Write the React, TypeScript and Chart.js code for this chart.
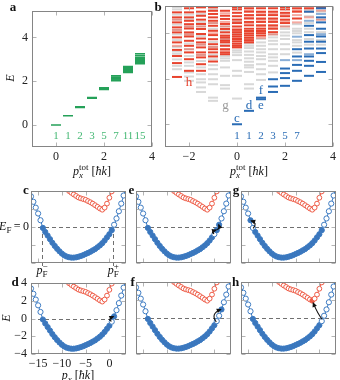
import { useEffect, useRef } from "react";
import { Chart, registerables } from "chart.js";

Chart.register(...registerables);

const SERIF = '"Liberation Serif", "DejaVu Serif", serif';
const GREEN = "#25a159";
const GREEN_TEXT = "#45b874";
const RED = "#e8432e";
const RED_LIGHT = "rgba(232, 67, 46, 0.45)";
const GRAY = "#d8d8d8";
const BLUE = "#2a6cb5";
const BLUE_LIGHT = "rgba(42, 108, 181, 0.55)";
const BAND_BLUE = "#3d7bc2";
const BAND_BLUE_FILL = "#3a76bc";
const BAND_RED = "#ee5b46";

// ---------- panel a : non-interacting spectrum ----------
const aMomenta = [0, 0.5, 1, 1.5, 2, 2.5, 3, 3.5];
const aLevels = [
  [0],
  [0.43],
  [0.8, 0.84],
  [1.22, 1.24, 1.26],
  [1.62, 1.64, 1.66, 1.68, 1.7],
  [2.02, 2.06, 2.1, 2.12, 2.16, 2.2, 2.25],
  [2.4, 2.43, 2.45, 2.48, 2.5, 2.53, 2.56, 2.58, 2.6, 2.64, 2.68],
  [2.8, 2.82, 2.84, 2.86, 2.88, 2.9, 2.92, 2.95, 3.0, 3.02, 3.05, 3.08, 3.1, 3.18, 3.26],
];
const aCounts = ["1", "1", "2", "3", "5", "7", "11", "15"];
const aXTicks = [0, 2, 4];
const aYTicks = [0, 2, 4];

// ---------- panel b : interacting spectrum ----------
const bMomenta = [-2.5, -2, -1.5, -1, -0.5, 0, 0.5, 1, 1.5, 2, 2.5, 3, 3.5];
const bRed = [
  [2.08, 2.69, 3.0, 3.27, 3.6, 3.82, 4.04, 4.26, 4.48, 4.7, 4.92],
  [2.35, 2.86, 3.16, 3.45, 3.67, 3.86, 4.04, 4.21, 4.4, 4.55, 4.7, 4.92, 5.1],
  [2.35, 2.64, 2.94, 3.16, 3.38, 3.6, 3.77, 3.97, 4.19, 4.41, 4.6, 4.77, 4.95, 5.14],
  [2.76, 2.98, 3.16, 3.3, 3.52, 3.74, 3.92, 4.11, 4.33, 4.55, 4.7, 4.85, 4.99, 5.14],
  [3.08, 3.16, 3.3, 3.45, 3.6, 3.67, 3.82, 3.9, 4.04, 4.19, 4.41, 4.63, 4.77, 4.99],
  [3.38, 3.45, 3.55, 3.65, 3.75, 3.85, 3.95, 4.05, 4.15, 4.3, 4.45, 4.6, 4.75, 4.9, 5.05, 5.14],
  [3.6, 3.7, 3.8, 3.9, 4.0, 4.1, 4.2, 4.35, 4.5, 4.65, 4.8, 4.95, 5.1],
  [3.9, 4.0, 4.1, 4.2, 4.35, 4.5, 4.65, 4.8, 4.95, 5.1],
  [4.05, 4.2, 4.35, 4.5, 4.65, 4.8, 4.95, 5.1],
  [4.45, 4.6, 4.75, 4.9, 5.05, 5.15],
  [4.65, 4.95, 5.1],
  [5.1],
  [5.15],
];
const bRedLight = [
  [3.45, 4.15, 4.6],
  [3.3, 3.95, 4.3],
  [3.05, 3.5, 4.3],
  [3.4, 4.0, 4.45],
  [3.25, 3.75, 4.3, 4.5, 4.88],
  [3.5, 3.9, 4.2, 4.5],
  [3.65, 3.95, 4.45, 4.7, 5.0],
  [3.8, 4.05, 4.3, 4.6, 4.9],
  [3.95, 4.28, 4.58, 4.88],
  [4.3, 4.52, 4.82],
  [4.48, 4.8, 5.0],
  [4.7, 4.95, 5.2],
  [4.6, 5.0],
];
const bGray = [
  [2.42, 2.57, 2.85, 3.1, 3.2, 3.4, 3.7, 3.95, 4.15, 4.38, 4.6, 4.82, 5.05, 5.15],
  [1.91, 2.1, 2.28, 2.57, 2.72, 3.0, 3.3, 3.55, 3.95, 4.3, 4.62, 4.82],
  [1.42, 1.62, 1.84, 1.98, 2.2, 2.5, 2.78, 3.05, 3.5, 3.88, 4.3, 4.5, 4.85],
  [1.03, 1.17, 1.76, 1.98, 2.2, 2.42, 2.6, 2.86, 3.05, 3.4, 3.62, 4.2, 4.45, 5.05],
  [1.57, 1.72, 2.13, 2.5, 2.79, 2.9, 3.0, 3.5, 3.75, 4.1, 4.3],
  [1.13, 2.13, 2.35, 2.82, 3.04, 3.16, 3.25, 4.0, 4.5, 5.2],
  [1.57, 1.76, 2.3, 2.5, 2.6, 2.75, 2.9, 3.05, 3.2, 3.35, 3.45, 3.55, 5.2],
  [1.95, 2.2, 2.42, 2.64, 2.86, 3.0, 3.16, 3.3, 3.45, 3.6, 3.75],
  [2.28, 2.57, 2.79, 2.94, 3.08, 3.3, 3.52, 3.67, 3.82, 3.95],
  [3.08, 3.3, 3.52, 3.75, 3.9, 4.04, 4.19, 4.3],
  [3.15, 3.45, 3.6, 3.7, 4.0, 4.1, 4.2, 4.4, 5.2],
  [3.5, 3.75, 4.05, 4.2, 4.45, 4.75, 5.05],
  [3.5, 3.7, 4.05, 4.6, 4.95],
];
const bBlue = [
  [], [], [], [], [],
  [0],
  [0.59],
  [1.1, 1.17],
  [1.42, 1.66, 1.98],
  [1.69, 2.03, 2.25, 2.45],
  [1.91, 2.35, 2.61, 2.98, 3.3],
  [2.13, 2.57, 2.79, 2.98, 3.33, 3.63, 3.92, 4.33, 4.95],
  [2.3, 2.74, 3.13, 3.33, 3.63, 3.86, 4.2, 4.48, 4.7, 5.1],
];
const bBlueLight = [
  [], [], [], [], [], [], [], [], [],
  [2.82],
  [2.82, 3.85],
  [3.08, 4.55],
  [3.96, 4.85],
];
const bCountMomenta = [0, 0.5, 1, 1.5, 2, 2.5];
const bCounts = ["1", "1", "2", "3", "5", "7"];
const bXTicks = [-2, 0, 2, 4];
const bYTicks = [0, 2, 4];
const bStateLabels = [
  { t: "c", x: 0, y: 0.24, color: BLUE },
  { t: "d", x: 0.5, y: 0.82, color: BLUE },
  { t: "f", x: 1, y: 1.47, color: BLUE },
  { t: "e", x: 1, y: 0.84, color: BLUE },
  { t: "g", x: -0.48, y: 0.8, color: "#9a9a9a" },
  { t: "h", x: -2, y: 1.84, color: RED },
];

// ---------- panels c-h : single-particle dispersion ----------
const bandMomenta = [
  -16.5, -16, -15.5, -15, -14.5, -14, -13.5, -13, -12.5, -12,
  -11.5, -11, -10.5, -10, -9.5, -9, -8.5, -8, -7.5, -7,
  -6.5, -6, -5.5, -5, -4.5, -4, -3.5, -3, -2.5, -2,
  -1.5, -1, -0.5, 0, 0.5, 1, 1.5, 2, 2.5, 3, 3.5,
];
const lowerBand = [
  3.4, 2.8, 2.15, 1.5, 0.75, -0.1, -0.55, -0.95, -1.35, -1.75,
  -2.1, -2.42, -2.7, -2.95, -3.15, -3.28, -3.36, -3.4, -3.4, -3.37,
  -3.3, -3.22, -3.12, -3.0, -2.88, -2.75, -2.6, -2.45, -2.25, -2.05,
  -1.8, -1.5, -1.15, -0.8, -0.35, 0.25, 0.95, 1.75, 2.6, 3.5, 4.4,
];
const upperMomenta = [
  -9, -8.5, -8, -7.5, -7, -6.5, -6, -5.5, -5, -4.5, -4,
  -3.5, -3, -2.5, -2, -1.5, -1, -0.5, 0, 0.5, 1,
];
const upperBand = [
  4.3, 4.0, 3.8, 3.62, 3.45, 3.28, 3.18, 3.1, 3.02, 2.88, 2.75,
  2.6, 2.42, 2.24, 2.06, 1.92, 2.15, 2.6, 3.25, 3.95, 4.6,
];
const fermiMomenta = [-14.2, 0.84];
const pXTicks = [-15, -10, -5, 0];
const pYTicks = [-4, -2, 0, 2, 4];

type Arrow = { from: number[]; via: number[]; to: number[] };
type Excitation = { holes: number[]; particles: number[]; redParticles: number[]; arrows: Arrow[] };

const excitations: Record<string, Excitation> = {
  c: { holes: [], particles: [], redParticles: [], arrows: [] },
  d: {
    holes: [0.5], particles: [1], redParticles: [],
    arrows: [{ from: [0.45, -0.3], via: [-0.5, -0.1], to: [0.85, 0.25] }],
  },
  e: {
    holes: [0], particles: [1], redParticles: [],
    arrows: [
      { from: [-0.05, -0.75], via: [-0.9, -0.55], to: [0.35, -0.35] },
      { from: [0.45, -0.3], via: [1.3, -0.2], to: [0.9, 0.25] },
    ],
  },
  f: {
    holes: [0.5], particles: [1.5], redParticles: [],
    arrows: [{ from: [0.4, -0.45], via: [-0.9, 0.5], to: [1.35, 0.95] }],
  },
  g: {
    holes: [-14], particles: [-14.5], redParticles: [],
    arrows: [{ from: [-13.95, -0.15], via: [-12.9, 0.45], to: [-14.35, 0.7] }],
  },
  h: {
    holes: [0.5], particles: [], redParticles: [-1.5],
    arrows: [{ from: [0.6, -0.15], via: [-0.35, 0.45], to: [-1.3, 1.68] }],
  },
};

// ---------- drawing helpers ----------
type Part = { t: string; it?: boolean; sub?: boolean; sup?: boolean; over?: boolean };
type Label = {
  parts: Part[]; x: number; y: number; xData?: boolean; yData?: boolean;
  align?: string; color?: string; size?: number; bold?: boolean; rotate?: boolean;
};

function drawRich(ctx: any, parts: Part[], x: number, y: number, size: number, color: string, align: string, bold: boolean) {
  const font = (p: Part) =>
    `${p.it ? "italic " : ""}${bold ? "bold " : ""}${p.sub || p.sup ? Math.round(size * 0.72) : size}px ${SERIF}`;
  const items: any[] = [];
  let cursor = 0;
  let prevStart = 0;
  for (const p of parts) {
    ctx.font = font(p);
    const w = ctx.measureText(p.t).width;
    let start;
    if (p.over) {
      start = prevStart;
      cursor = Math.max(cursor, start + w);
    } else {
      start = cursor;
      cursor += w;
      prevStart = start;
    }
    items.push({ p, start });
  }
  const x0 = align === "center" ? x - cursor / 2 : align === "right" ? x - cursor : x;
  ctx.fillStyle = color;
  ctx.textBaseline = "middle";
  ctx.textAlign = "left";
  for (const it of items) {
    ctx.font = font(it.p);
    const dy = it.p.sub ? size * 0.3 : it.p.sup ? -size * 0.38 : 0;
    ctx.fillText(it.p.t, x0 + it.start, y + dy);
  }
}

const decorPlugin = {
  id: "decor",
  beforeDatasetsDraw(chart: any, _a: any, o: any) {
    const { ctx, chartArea: ca, scales } = chart;
    const xs = scales.x;
    const ys = scales.y;
    ctx.save();
    ctx.strokeStyle = "#707070";
    ctx.lineWidth = 1;
    ctx.setLineDash([4, 3]);
    if (o.zeroLine) {
      const py = Math.round(ys.getPixelForValue(0)) + 0.5;
      ctx.beginPath();
      ctx.moveTo(ca.left, py);
      ctx.lineTo(ca.right, py);
      ctx.stroke();
    }
    for (const f of o.fermi || []) {
      const px = Math.round(xs.getPixelForValue(f)) + 0.5;
      ctx.beginPath();
      ctx.moveTo(px, ys.getPixelForValue(0));
      ctx.lineTo(px, ca.bottom + 4);
      ctx.stroke();
    }
    ctx.restore();
  },
  afterDraw(chart: any, _a: any, o: any) {
    const { ctx, chartArea: ca, scales } = chart;
    const xs = scales.x;
    const ys = scales.y;
    ctx.save();
    const L = Math.round(ca.left) + 0.5;
    const R = Math.round(ca.right) - 0.5;
    const T = Math.round(ca.top) + 0.5;
    const B = Math.round(ca.bottom) - 0.5;
    // inner tick marks
    ctx.strokeStyle = "#b4b4b4";
    ctx.lineWidth = 1;
    for (const v of o.xTicks || []) {
      const px = Math.round(xs.getPixelForValue(v)) + 0.5;
      ctx.beginPath();
      ctx.moveTo(px, B);
      ctx.lineTo(px, B - 4);
      ctx.moveTo(px, T);
      ctx.lineTo(px, T + 4);
      ctx.stroke();
    }
    for (const v of o.yTicks || []) {
      const py = Math.round(ys.getPixelForValue(v)) + 0.5;
      ctx.beginPath();
      ctx.moveTo(L, py);
      ctx.lineTo(L + 4, py);
      ctx.moveTo(R, py);
      ctx.lineTo(R - 4, py);
      ctx.stroke();
    }
    // frame
    ctx.strokeStyle = "#858585";
    ctx.strokeRect(L, T, R - L, B - T);
    // arrows
    for (const a of o.arrows || []) {
      const P = (q: number[]) => [xs.getPixelForValue(q[0]), ys.getPixelForValue(q[1])];
      const [x1, y1] = P(a.from);
      const [cx, cy] = P(a.via);
      const [x2, y2] = P(a.to);
      ctx.strokeStyle = "#111";
      ctx.fillStyle = "#111";
      ctx.lineWidth = 1.1;
      ctx.beginPath();
      ctx.moveTo(x1, y1);
      ctx.quadraticCurveTo(cx, cy, x2, y2);
      ctx.stroke();
      const ang = Math.atan2(y2 - cy, x2 - cx);
      const hl = 4;
      const hw = 2.3;
      ctx.beginPath();
      ctx.moveTo(x2 + Math.cos(ang) * 1, y2 + Math.sin(ang) * 1);
      ctx.lineTo(x2 - Math.cos(ang) * hl - Math.sin(ang) * hw, y2 - Math.sin(ang) * hl + Math.cos(ang) * hw);
      ctx.lineTo(x2 - Math.cos(ang) * hl + Math.sin(ang) * hw, y2 - Math.sin(ang) * hl - Math.cos(ang) * hw);
      ctx.closePath();
      ctx.fill();
    }
    // text labels
    for (const l of (o.labels || []) as Label[]) {
      const px = l.xData ? xs.getPixelForValue(l.x) : l.x;
      const py = l.yData ? ys.getPixelForValue(l.y) : l.y;
      const size = l.size || 12;
      const color = l.color || "#111";
      if (l.rotate) {
        ctx.save();
        ctx.translate(px, py);
        ctx.rotate(-Math.PI / 2);
        drawRich(ctx, l.parts, 0, 0, size, color, "center", !!l.bold);
        ctx.restore();
      } else {
        drawRich(ctx, l.parts, px, py, size, color, l.align || "center", !!l.bold);
      }
    }
    ctx.restore();
  },
};

const fmt = (v: number) => (v < 0 ? "\u2212" + Math.abs(v) : String(v));

type Geom = {
  yW: number; xH: number; padTop: number; padRight: number;
  xMin: number; xMax: number; yMin: number; yMax: number;
  xTicks: number[]; yTicks: number[]; showX: boolean; showY: boolean;
};

function makeConfig(g: Geom, datasets: any[], decor: any) {
  const tickFont = { family: SERIF, size: 12 };
  return {
    type: "scatter",
    data: { datasets },
    options: {
      responsive: false,
      animation: false,
      devicePixelRatio: 1,
      events: [],
      layout: { autoPadding: false, padding: { top: g.padTop, right: g.padRight, left: 0, bottom: 0 } },
      plugins: { legend: { display: false }, tooltip: { enabled: false }, decor: { ...decor, xTicks: g.xTicks, yTicks: g.yTicks } },
      scales: {
        x: {
          type: "linear", position: "bottom", min: g.xMin, max: g.xMax,
          grid: { display: false, drawTicks: false }, border: { display: false },
          ticks: { display: g.showX, padding: 3, color: "#222", font: tickFont, callback: fmt, maxRotation: 0 },
          afterBuildTicks: (s: any) => { s.ticks = g.xTicks.map((v) => ({ value: v })); },
          afterFit: (s: any) => { s.height = g.xH; },
        },
        y: {
          type: "linear", position: "left", min: g.yMin, max: g.yMax,
          grid: { display: false, drawTicks: false }, border: { display: false },
          ticks: { display: g.showY, padding: 4, color: "#222", font: tickFont, callback: fmt },
          afterBuildTicks: (s: any) => { s.ticks = g.yTicks.map((v) => ({ value: v })); },
          afterFit: (s: any) => { s.width = g.yW; },
        },
      },
    },
    plugins: [decorPlugin],
  };
}

const levelPoints = (cols: number[], levels: number[][]) =>
  cols.flatMap((x, i) => levels[i].map((y) => ({ x, y })));

const levelSet = (data: any[], color: string, width: number) => ({
  data, pointStyle: "line", pointRadius: 5, pointBorderWidth: width,
  pointBorderColor: color, pointBackgroundColor: color, showLine: false,
});

const momentumTitle: Part[] = [
  { t: "p", it: true }, { t: "x", it: true, sub: true }, { t: "tot", sup: true, over: true },
  { t: " [" }, { t: "\u0127k", it: true }, { t: "]" },
];

function makeA() {
  const g: Geom = {
    yW: 32, xH: 38, padTop: 7, padRight: 8, xMin: -1, xMax: 4, yMin: -1, yMax: 5.2,
    xTicks: aXTicks, yTicks: aYTicks, showX: true, showY: true,
  };
  const labels: Label[] = [
    { parts: [{ t: "a" }], x: 13, y: 8, bold: true, size: 13 },
    { parts: [{ t: "E", it: true }], x: 11, y: 78, rotate: true, size: 12 },
    { parts: momentumTitle, x: 92, y: 172, size: 12 },
    ...aMomenta.map((x, i) => ({
      parts: [{ t: aCounts[i] }], x, y: -0.52, xData: true, yData: true, color: GREEN_TEXT, size: 11,
    })),
  ];
  return makeConfig(g, [levelSet(levelPoints(aMomenta, aLevels), GREEN, 1.5)], { labels });
}

function makeB() {
  const g: Geom = {
    yW: 15, xH: 38, padTop: 6, padRight: 7, xMin: -3, xMax: 4, yMin: -1, yMax: 5.2,
    xTicks: bXTicks, yTicks: bYTicks, showX: true, showY: false,
  };
  const labels: Label[] = [
    { parts: [{ t: "b" }], x: 8, y: 8, bold: true, size: 13 },
    { parts: momentumTitle, x: 99, y: 172, size: 12 },
    ...bCountMomenta.map((x, i) => ({
      parts: [{ t: bCounts[i] }], x, y: -0.52, xData: true, yData: true, color: BLUE, size: 11,
    })),
    ...bStateLabels.map((s) => ({
      parts: [{ t: s.t }], x: s.x, y: s.y, xData: true, yData: true, color: s.color, size: 13,
    })),
  ];
  const datasets = [
    levelSet(levelPoints(bMomenta, bBlue), BLUE, 2),
    levelSet(levelPoints(bMomenta, bBlueLight), BLUE_LIGHT, 2),
    levelSet(levelPoints(bMomenta, bRed), RED, 2),
    levelSet(levelPoints(bMomenta, bRedLight), RED_LIGHT, 2),
    levelSet(levelPoints(bMomenta, bGray), GRAY, 2),
  ];
  return makeConfig(g, datasets, { labels });
}

function bandSets(ex: Excitation) {
  return [
    {
      data: upperMomenta.map((x, i) => ({ x, y: upperBand[i] })),
      showLine: true, borderColor: BAND_RED, borderWidth: 1, tension: 0,
      pointRadius: 2.4, pointBorderWidth: 1, pointBorderColor: BAND_RED,
      pointBackgroundColor: (c: any) => (c.raw && ex.redParticles.includes(c.raw.x) ? BAND_RED : "#ffffff"),
      clip: 0,
    },
    {
      data: bandMomenta.map((x, i) => ({ x, y: lowerBand[i] })),
      showLine: true, borderColor: BAND_BLUE, borderWidth: 1, tension: 0,
      pointRadius: 2.6, pointBorderWidth: 1, pointBorderColor: BAND_BLUE,
      pointBackgroundColor: (c: any) => {
        const p = c.raw;
        if (!p) return "#ffffff";
        const occ = (p.y < 0 && !ex.holes.includes(p.x)) || ex.particles.includes(p.x);
        return occ ? BAND_BLUE_FILL : "#ffffff";
      },
      clip: 0,
    },
  ];
}

function makeBand(key: string, top: boolean, yW: number, padRight: number, letterX: number, extra: Label[], fermi: boolean, showTicks: boolean) {
  const g: Geom = {
    yW, xH: top ? 17 : 26, padTop: top ? 9 : 10, padRight,
    xMin: -16.5, xMax: 3.5, yMin: -4, yMax: 4,
    xTicks: pXTicks, yTicks: pYTicks, showX: showTicks, showY: showTicks,
  };
  const ex = excitations[key];
  const labels: Label[] = [
    { parts: [{ t: key }], x: letterX, y: top ? 8.5 : 11, bold: true, size: 13 },
    ...extra,
  ];
  return makeConfig(g, bandSets(ex), {
    zeroLine: true, fermi: fermi ? fermiMomenta : [], arrows: ex.arrows, labels,
  });
}

function makeC() {
  const extra: Label[] = [
    { parts: [{ t: "E", it: true }, { t: "F", sub: true }, { t: "\u2009=\u20090" }], x: 29, y: 0, yData: true, align: "right", size: 12 },
    { parts: [{ t: "p", it: true }, { t: "F", sub: true }, { t: "\u2212", sup: true, over: true }], x: fermiMomenta[0], xData: true, y: 89, size: 12 },
    { parts: [{ t: "p", it: true }, { t: "F", sub: true }, { t: "+", sup: true, over: true }], x: fermiMomenta[1], xData: true, y: 89, size: 12 },
  ];
  return makeBand("c", true, 31, 2, 26, extra, true, false);
}

function makeD() {
  const extra: Label[] = [
    { parts: [{ t: "E", it: true }], x: 7, y: 46, rotate: true, size: 12 },
    { parts: [{ t: "p", it: true }, { t: "x", it: true, sub: true }, { t: " [" }, { t: "\u0127k", it: true }, { t: "]" }], x: 78, y: 104, size: 12 },
  ];
  return makeBand("d", false, 31, 2, 15, extra, false, true);
}

function Panel({ left, top, width, height, make }: any) {
  const ref = useRef<HTMLCanvasElement>(null);
  useEffect(() => {
    const chart = new Chart(ref.current as HTMLCanvasElement, make() as any);
    return () => chart.destroy();
  }, []);
  return (
    <canvas
      ref={ref}
      width={width}
      height={height}
      style={{ position: "absolute", left, top, width, height }}
    />
  );
}

export default function App() {
  return (
    <div style={{ position: "absolute", left: 0, top: 0, width: 340, height: 380, background: "#fff", overflow: "hidden" }}>
      <Panel left={0} top={0} width={160} height={185} make={makeA} />
      <Panel left={150} top={0} width={190} height={185} make={makeB} />
      <Panel left={0} top={182} width={128} height={98} make={makeC} />
      <Panel left={0} top={272} width={128} height={108} make={makeD} />
      <Panel left={126} top={182} width={106} height={98} make={() => makeBand("e", true, 10, 1, 5.5, [], false, false)} />
      <Panel left={126} top={272} width={106} height={108} make={() => makeBand("f", false, 10, 1, 6.7, [], false, false)} />
      <Panel left={230} top={182} width={110} height={98} make={() => makeBand("g", true, 11, 4, 6, [], false, false)} />
      <Panel left={230} top={272} width={110} height={108} make={() => makeBand("h", false, 11, 4, 5.5, [], false, false)} />
    </div>
  );
}
